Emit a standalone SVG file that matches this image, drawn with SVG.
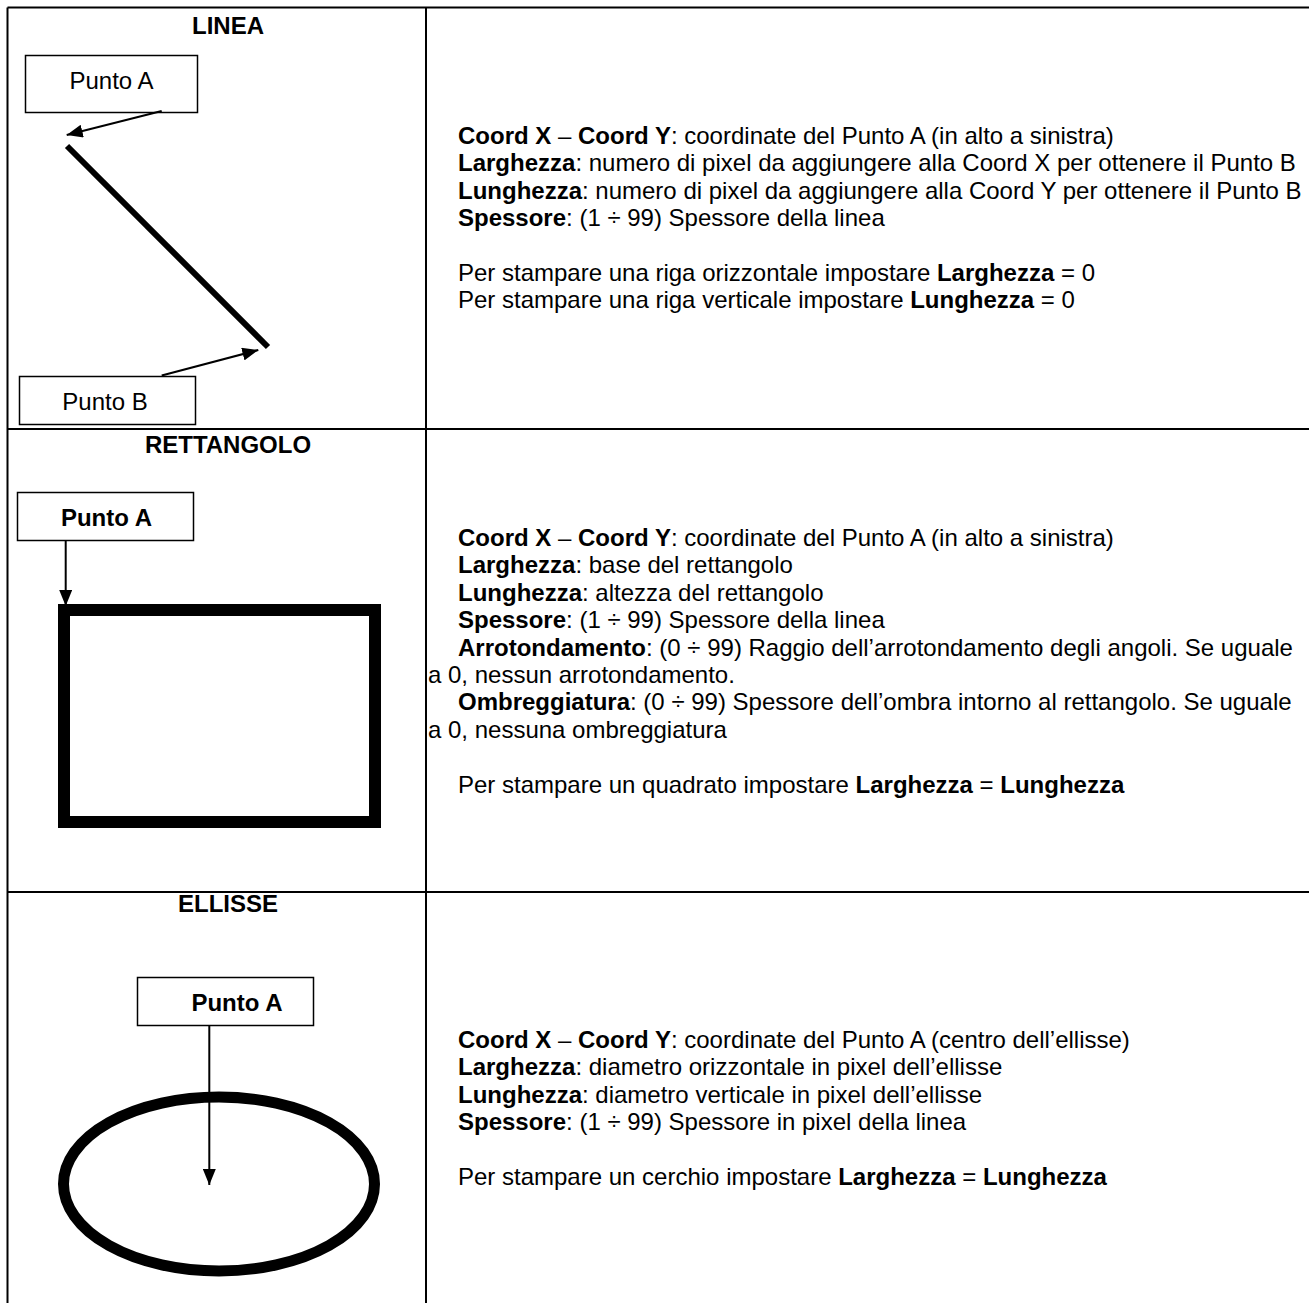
<svg xmlns="http://www.w3.org/2000/svg" width="1309" height="1303" viewBox="0 0 1309 1303">
<style>
text{font-family:"Liberation Sans",Arial,sans-serif;font-size:24px;fill:#000}
.b{font-weight:bold}
.title{font-weight:bold;text-anchor:middle}
.box{fill:#fff;stroke:#000;stroke-width:1.5}
.grid{stroke:#000;stroke-width:2;fill:none}
.conn{stroke:#000;stroke-width:2;fill:none;marker-end:url(#ah)}
</style>
<defs>
<marker id="ah" markerUnits="userSpaceOnUse" markerWidth="16" markerHeight="13" refX="16" refY="6.5" orient="auto" viewBox="0 0 16 13">
<path d="M0,0 L16,6.5 L0,13 z" fill="#000"/>
</marker>
</defs>
<rect x="0" y="0" width="1309" height="1303" fill="#fff"/>
<g id="table">
<line class="grid" x1="7.5" y1="7.5" x2="1309" y2="7.5"/>
<line class="grid" x1="7.5" y1="7.5" x2="7.5" y2="1303"/>
<line class="grid" x1="426" y1="7.5" x2="426" y2="1303"/>
<line class="grid" x1="7.5" y1="429" x2="1309" y2="429"/>
<line class="grid" x1="7.5" y1="892" x2="1309" y2="892"/>
</g>
<g id="linea">
<text class="title" x="228" y="34">LINEA</text>
<line x1="67" y1="146" x2="268" y2="347" stroke="#000" stroke-width="6"/>
</g>
<g id="linea-puntoA">
<rect class="box" x="25.5" y="55.5" width="172" height="57"/>
<text x="111.5" y="89" text-anchor="middle">Punto A</text>
</g>
<g id="linea-puntoB">
<rect class="box" x="19.5" y="376.5" width="176" height="48"/>
<text x="105" y="410" text-anchor="middle">Punto B</text>
</g>
<g id="rettangolo">
<text class="title" x="228" y="453">RETTANGOLO</text>
<rect x="64" y="610" width="311" height="212" fill="none" stroke="#000" stroke-width="12"/>
</g>
<g id="rett-puntoA">
<rect class="box" x="17.5" y="492.5" width="176" height="48"/>
<text class="b" x="106.5" y="526" text-anchor="middle">Punto A</text>
</g>
<g id="ellisse">
<text class="title" x="228" y="912">ELLISSE</text>
<ellipse cx="219" cy="1184" rx="155.5" ry="87" fill="none" stroke="#000" stroke-width="11"/>
</g>
<g id="ell-puntoA">
<rect class="box" x="137.5" y="977.5" width="176" height="48"/>
<text class="b" x="237" y="1011" text-anchor="middle">Punto A</text>
</g>
<g id="connectors">
<line class="conn" x1="161.7" y1="111" x2="66.7" y2="135"/>
<line class="conn" x1="161.7" y1="375.5" x2="258.3" y2="350"/>
<line class="conn" x1="65.7" y1="541" x2="65.7" y2="606"/>
<line class="conn" x1="209.3" y1="1026" x2="209.3" y2="1185"/>
</g>
<g id="linea-text">
<text x="458" y="144"><tspan class="b">Coord X</tspan> – <tspan class="b">Coord Y</tspan>: coordinate del Punto A (in alto a sinistra)</text>
<text x="458" y="171.4"><tspan class="b">Larghezza</tspan>: numero di pixel da aggiungere alla Coord X per ottenere il Punto B</text>
<text x="458" y="198.8"><tspan class="b">Lunghezza</tspan>: numero di pixel da aggiungere alla Coord Y per ottenere il Punto B</text>
<text x="458" y="226.2"><tspan class="b">Spessore</tspan>: (1 ÷ 99) Spessore della linea</text>
<text x="458" y="281"><tspan>Per stampare una riga orizzontale impostare </tspan><tspan class="b">Larghezza</tspan> = 0</text>
<text x="458" y="308.4"><tspan>Per stampare una riga verticale impostare </tspan><tspan class="b">Lunghezza</tspan> = 0</text>
</g>
<g id="rett-text">
<text x="458" y="546"><tspan class="b">Coord X</tspan> – <tspan class="b">Coord Y</tspan>: coordinate del Punto A (in alto a sinistra)</text>
<text x="458" y="573.4"><tspan class="b">Larghezza</tspan>: base del rettangolo</text>
<text x="458" y="600.8"><tspan class="b">Lunghezza</tspan>: altezza del rettangolo</text>
<text x="458" y="628.2"><tspan class="b">Spessore</tspan>: (1 ÷ 99) Spessore della linea</text>
<text x="458" y="655.6"><tspan class="b">Arrotondamento</tspan>: (0 ÷ 99) Raggio dell’arrotondamento degli angoli. Se uguale</text>
<text x="428" y="683">a 0, nessun arrotondamento.</text>
<text x="458" y="710.4"><tspan class="b">Ombreggiatura</tspan>: (0 ÷ 99) Spessore dell’ombra intorno al rettangolo. Se uguale</text>
<text x="428" y="737.8">a 0, nessuna ombreggiatura</text>
<text x="458" y="792.6"><tspan>Per stampare un quadrato impostare </tspan><tspan class="b">Larghezza</tspan> = <tspan class="b">Lunghezza</tspan></text>
</g>
<g id="ell-text">
<text x="458" y="1048"><tspan class="b">Coord X</tspan> – <tspan class="b">Coord Y</tspan>: coordinate del Punto A (centro dell’ellisse)</text>
<text x="458" y="1075.4"><tspan class="b">Larghezza</tspan>: diametro orizzontale in pixel dell’ellisse</text>
<text x="458" y="1102.8"><tspan class="b">Lunghezza</tspan>: diametro verticale in pixel dell’ellisse</text>
<text x="458" y="1130.2"><tspan class="b">Spessore</tspan>: (1 ÷ 99) Spessore in pixel della linea</text>
<text x="458" y="1185"><tspan>Per stampare un cerchio impostare </tspan><tspan class="b">Larghezza</tspan> = <tspan class="b">Lunghezza</tspan></text>
</g>
</svg>
